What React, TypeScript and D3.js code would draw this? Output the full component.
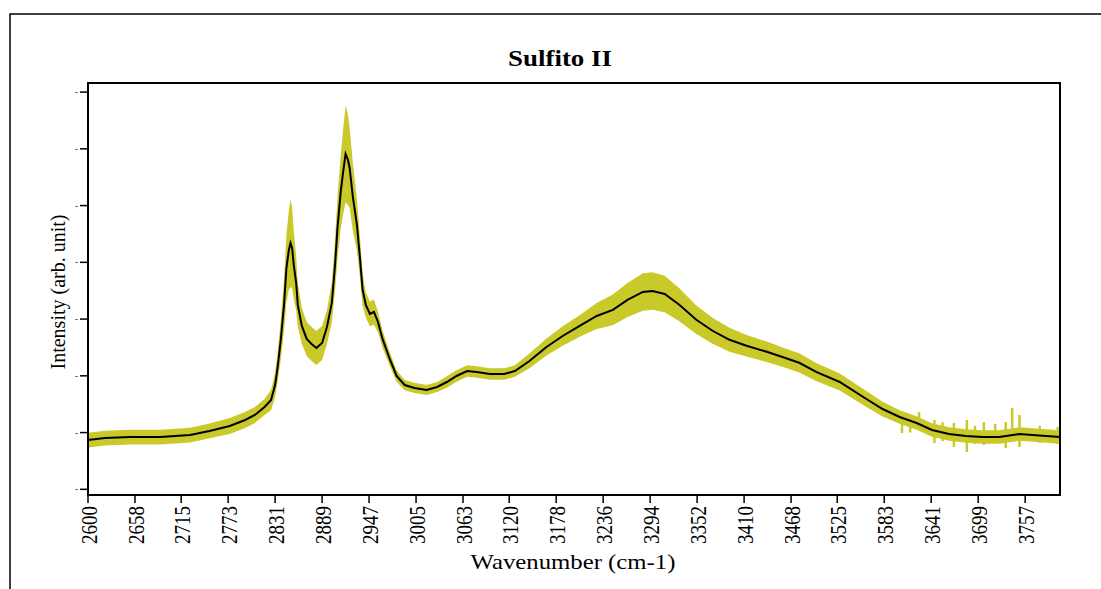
import * as d3 from "d3";

// wavenumber (cm-1) and mean intensity (arb. unit)
const wavenumber = [
  2600, 2621, 2652, 2689, 2726, 2750, 2775, 2794, 2806, 2818, 2826, 2831, 2834, 2838, 2842,
  2845, 2848, 2850, 2852, 2854, 2857, 2859, 2864, 2870, 2876, 2882, 2889, 2895, 2901, 2905,
  2908, 2912, 2915, 2918, 2921, 2923, 2927, 2932, 2936, 2939, 2943, 2948, 2953, 2958, 2964,
  2973, 2981, 2991, 3003, 3018, 3031, 3043, 3055, 3068, 3080, 3096, 3114, 3127, 3145, 3166,
  3186, 3207, 3228, 3248, 3266, 3285, 3297, 3312, 3330, 3351, 3371, 3392, 3413, 3438, 3460,
  3478, 3499, 3528, 3561, 3581, 3602, 3623, 3642, 3663, 3684, 3704, 3725, 3750, 3766, 3800,
];
const meanIntensity = [
  86.9, 90.4, 92.2, 92.2, 95.7, 102.8, 111.6, 122.2, 131.0, 145.1, 157.4, 183.8, 213.8, 263.2, 324.9,
  390.1, 421.8, 434.2, 425.4, 395.4, 363.7, 324.9, 287.9, 265.0, 256.1, 249.1, 257.9, 286.1, 328.4, 395.4,
  460.6, 524.1, 559.3, 591.0, 580.4, 566.3, 515.2, 465.9, 404.2, 351.7, 324.9, 309.0, 312.5, 294.9, 263.2,
  227.9, 199.7, 183.8, 178.6, 175.0, 180.3, 189.1, 199.7, 208.5, 206.8, 203.2, 203.2, 208.5, 226.2, 250.8,
  270.2, 287.9, 305.5, 316.1, 333.7, 347.8, 349.5, 344.2, 325.2, 298.8, 279.4, 263.5, 252.9, 242.4, 231.8,
  223.0, 206.8, 189.1, 159.2, 141.5, 127.4, 116.9, 104.5, 97.5, 94.0, 92.2, 92.2, 97.5, 95.7, 92.2,
];
// half-width of the yellow spread band
const spread = [
  13, 13, 13, 13, 13, 13, 14, 14, 14, 14, 18, 21, 25, 35, 45,
  60, 70, 78, 70, 60, 48, 38, 32, 30, 30, 30, 30, 30, 35, 45,
  55, 65, 75, 85, 80, 70, 60, 45, 35, 28, 22, 22, 22, 18, 15,
  12, 10, 9, 9, 9, 9, 10, 10, 10, 10, 10, 10, 10, 13, 15,
  17, 19, 23, 27, 30, 33, 33, 32, 29, 25, 23, 21, 19, 18, 17,
  17, 16, 15, 14, 13, 12, 12, 12, 12, 12, 12, 12, 12, 12, 12,
];
// noisy spikes in the tail
const spikeW = [3605, 3615, 3626, 3645, 3655, 3669, 3685, 3695, 3706, 3720, 3733, 3741, 3750, 3775, 3797];
const spikeLo = [99.2, 100.0, 104.5, 81.6, 85.0, 74.6, 65.8, 80.0, 78.1, 82.0, 72.8, 83.4, 74.6, 82.0, 79.9];
const spikeHi = [134.8, 128.0, 136.3, 122.2, 118.0, 116.9, 122.2, 112.0, 118.6, 115.0, 118.6, 143.3, 131.0, 112.0, 109.9];

const xTickLabels = [
  2600, 2658, 2715, 2773, 2831, 2889, 2947, 3005, 3063, 3120, 3178, 3236, 3294, 3352, 3410,
  3468, 3525, 3583, 3641, 3699, 3757,
];
const yTicks = [0, 100, 200, 300, 400, 500, 600, 700];

const W = 1101;
const H = 589;
const left = 88, right = 1060, top = 83, bottom = 495;
const serif = "'Liberation Serif', 'Times New Roman', serif";

export default function App() {
  const x = d3.scaleLinear().domain([2600, 3800]).range([left, right]);
  const y = d3.scaleLinear().domain([-10, 716]).range([bottom, top]);

  const pts = wavenumber.map((w, i) => ({ w, m: meanIntensity[i], s: spread[i] }));

  const band = d3
    .area<{ w: number; m: number; s: number }>()
    .x((d) => x(d.w))
    .y0((d) => y(d.m - d.s))
    .y1((d) => y(d.m + d.s))(pts) as string;

  const line = d3
    .line<{ w: number; m: number; s: number }>()
    .x((d) => x(d.w))
    .y((d) => y(d.m))(pts) as string;

  const bandColor = "#c9c92a";

  return (
    <svg width={W} height={H} style={{ position: "absolute", left: 0, top: 0, background: "#fff" }}>
      <rect x={10} y={14} width={W + 20} height={H + 20} fill="none" stroke="#000" strokeWidth={1.5} />

      <text x={560} y={66} textAnchor="middle" fontFamily={serif} fontWeight="bold" fontSize={24} textLength={104} lengthAdjust="spacingAndGlyphs">
        Sulfito II
      </text>

      <path d={band} fill={bandColor} />
      {spikeW.map((w, i) => (
        <line key={i} x1={x(w)} x2={x(w)} y1={y(spikeLo[i])} y2={y(spikeHi[i])} stroke={bandColor} strokeWidth={2.5} />
      ))}
      <path d={line} fill="none" stroke="#000" strokeWidth={2} />

      <rect x={left} y={top} width={right - left} height={bottom - top} fill="none" stroke="#000" strokeWidth={2} />

      {yTicks.map((t) => (
        <g key={t}>
          <line x1={left - 8} x2={left} y1={y(t)} y2={y(t)} stroke="#000" strokeWidth={1.5} />
          <text x={left - 10} y={y(t)} dy="0.35em" textAnchor="end" fontFamily={serif} fontSize={9}>
            -
          </text>
        </g>
      ))}

      {xTickLabels.map((t) => (
        <g key={t}>
          <line x1={x(t)} x2={x(t)} y1={bottom} y2={bottom + 8} stroke="#000" strokeWidth={1.5} />
          <text
            transform={`translate(${x(t)},${bottom + 11}) rotate(-90)`}
            dy="0.36em"
            textAnchor="end"
            fontFamily={serif}
            fontSize={24}
            textLength={38}
            lengthAdjust="spacingAndGlyphs"
          >
            {t}
          </text>
        </g>
      ))}

      <text x={573} y={569} textAnchor="middle" fontFamily={serif} fontSize={21} textLength={205} lengthAdjust="spacingAndGlyphs">
        Wavenumber (cm-1)
      </text>
      <text
        transform={`translate(58,292) rotate(-90)`}
        dy="0.35em"
        textAnchor="middle"
        fontFamily={serif}
        fontSize={20}
        textLength={155}
        lengthAdjust="spacingAndGlyphs"
      >
        Intensity (arb. unit)
      </text>
    </svg>
  );
}
